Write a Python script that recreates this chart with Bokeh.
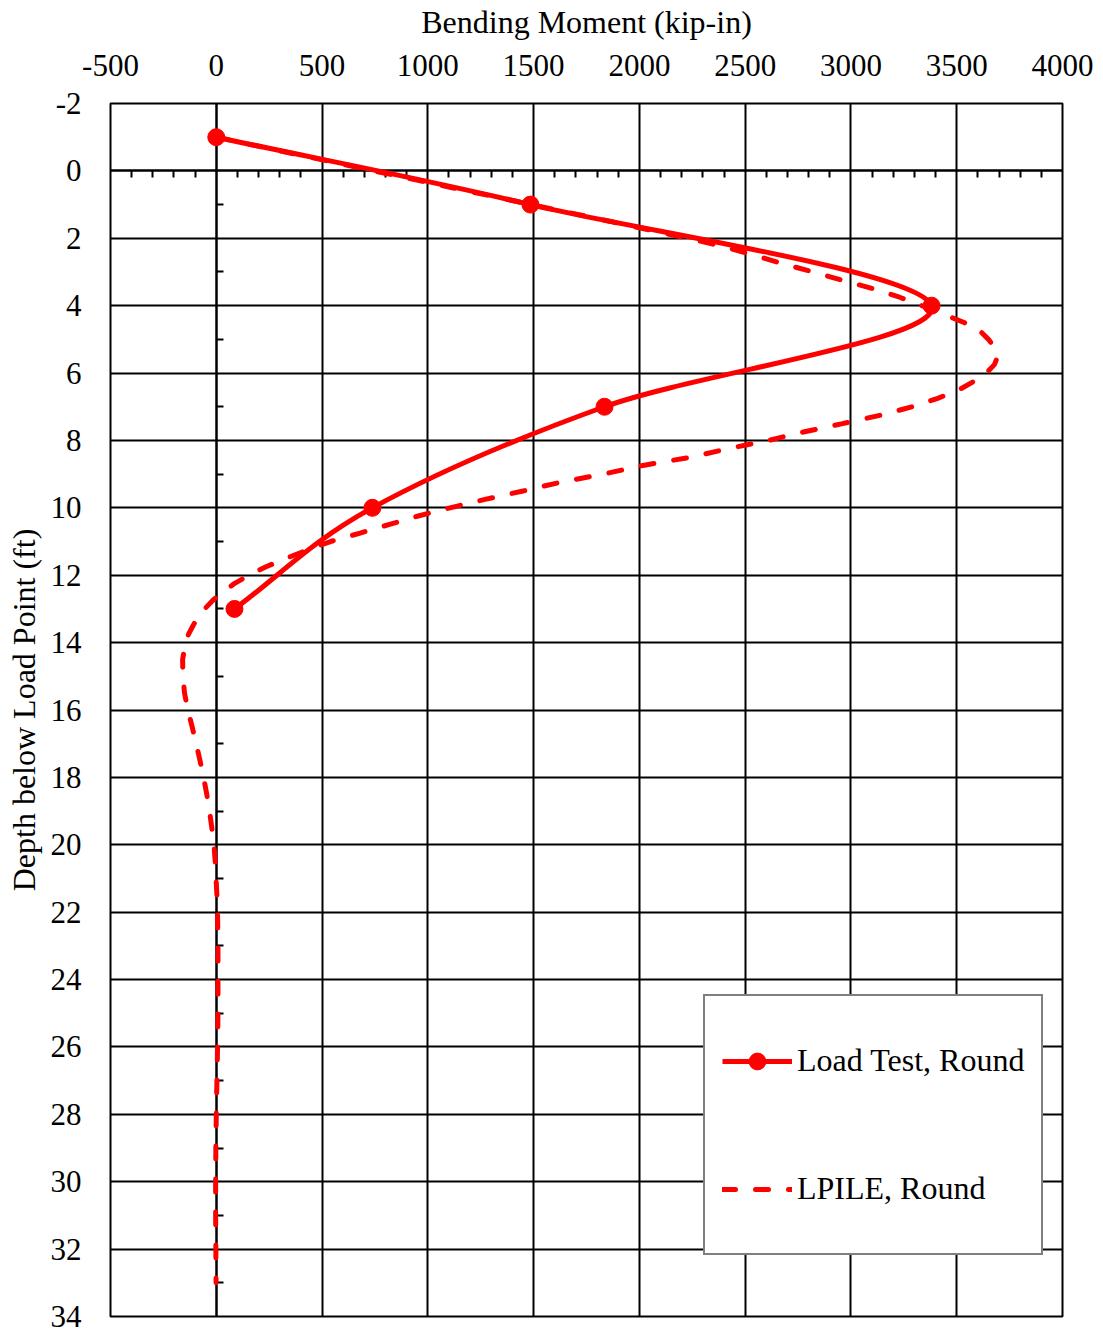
from bokeh.plotting import figure
from bokeh.models import Range1d, FixedTicker, LinearAxis, Legend, LegendItem, ColumnDataSource
from bokeh.embed import file_html
from bokeh.resources import INLINE

# ---- data ----
test_depth = [-1, 1, 4, 7, 10, 13]
test_moment = [0, 1485, 3381, 1835, 738, 86]

lpile_depth = [-1, 0, 0.5, 1.0, 1.5, 2.0, 2.25, 2.5, 2.75, 3.0, 3.25, 3.5, 3.75, 4.0,
               4.25, 4.5, 4.75, 5.0, 5.25, 5.5, 5.75, 6.0, 6.25, 6.5, 6.75, 7.0,
               7.25, 7.5, 7.75, 8.0, 8.25, 8.5, 8.75, 9.0, 9.25, 9.5, 9.75, 10.0,
               10.25, 10.5, 10.75, 11.0, 11.25, 11.5, 11.75, 12.0, 12.25, 12.5,
               12.75, 13.0, 13.25, 13.5, 13.75, 14.0, 14.5, 15.0, 15.5, 16.0, 16.5,
               17.0, 17.5, 18.0, 18.5, 19.0, 19.5, 20.0, 20.5, 21.0, 21.5, 22, 23,
               24, 25, 26, 27, 28, 29, 30, 31, 32, 33]
lpile_moment = [0, 745, 1115, 1490, 1862, 2230, 2400, 2540, 2675, 2822, 2960, 3107,
                3230, 3335, 3435, 3535, 3610, 3650, 3680, 3694, 3678, 3640, 3580,
                3510, 3410, 3290, 3140, 2960, 2775, 2610, 2415, 2240, 2010, 1830,
                1620, 1450, 1270, 1105, 950, 815, 680, 540, 430, 330, 235, 155, 85,
                30, -17, -55, -88, -110, -131, -146, -159, -158, -150, -134, -114,
                -95, -77, -60, -45, -32, -21, -11, -5, -1, 3, 6, 8, 8, 8, 6, 3, 0,
                -2, -3, -3, -2, -1]

x_ticks = [-500, 0, 500, 1000, 1500, 2000, 2500, 3000, 3500, 4000]
y_ticks = [-2, 0, 2, 4, 6, 8, 10, 12, 14, 16, 18, 20, 22, 24, 26, 28, 30, 32, 34]
x_minor = [v for v in range(-500, 4001, 100) if v % 500 != 0]
y_minor = list(range(-1, 34, 2))

FONT = "Liberation Serif"
RED = "#FF0000"

# Smoothed (Excel-like) curve through the load-test points, drawn as cubic Beziers
def bezier_segments(xs, ys):
    n = len(xs)
    out = dict(x0=[], y0=[], x1=[], y1=[], cx0=[], cy0=[], cx1=[], cy1=[])
    for i in range(n - 1):
        if i == 0:
            tx0, ty0 = xs[1] - xs[0], ys[1] - ys[0]
        else:
            tx0, ty0 = (xs[i + 1] - xs[i - 1]) / 2, (ys[i + 1] - ys[i - 1]) / 2
        if i + 1 == n - 1:
            tx1, ty1 = xs[n - 1] - xs[n - 2], ys[n - 1] - ys[n - 2]
        else:
            tx1, ty1 = (xs[i + 2] - xs[i]) / 2, (ys[i + 2] - ys[i]) / 2
        out["x0"].append(xs[i]); out["y0"].append(ys[i])
        out["x1"].append(xs[i + 1]); out["y1"].append(ys[i + 1])
        out["cx0"].append(xs[i] + tx0 / 3); out["cy0"].append(ys[i] + ty0 / 3)
        out["cx1"].append(xs[i + 1] - tx1 / 3); out["cy1"].append(ys[i + 1] - ty1 / 3)
    return out

p = figure(width=1103, height=1334,
           x_range=Range1d(-500, 4000), y_range=Range1d(34, -2),
           x_axis_location="above",
           output_backend="svg", toolbar_location=None,
           min_border_left=110, min_border_right=41,
           min_border_top=102, min_border_bottom=18)

p.outline_line_color = "black"
p.outline_line_width = 2
p.background_fill_color = "white"
p.border_fill_color = "white"

# main axes
p.xaxis.ticker = FixedTicker(ticks=x_ticks)
p.yaxis.ticker = FixedTicker(ticks=y_ticks)
p.xaxis.major_label_overrides = {v: str(v) for v in x_ticks}
p.yaxis.major_label_overrides = {v: str(v) for v in y_ticks}
for ax in (p.xaxis[0], p.yaxis[0]):
    ax.axis_line_color = None
    ax.major_tick_line_color = None
    ax.minor_tick_line_color = None
    ax.major_label_text_font = FONT
    ax.major_label_text_font_size = "31px"
    ax.major_label_text_color = "black"
    ax.axis_label_text_font = FONT
    ax.axis_label_text_font_size = "32px"
    ax.axis_label_text_font_style = "normal"
    ax.axis_label_text_color = "black"
p.xaxis.axis_label = "Bending Moment (kip-in)"
p.yaxis.axis_label = "Depth below Load Point (ft)"
p.xaxis.major_label_standoff = 22
p.xaxis.axis_label_standoff = 12
p.yaxis.major_label_standoff = 23
p.yaxis.axis_label_standoff = 6

p.xgrid.ticker = FixedTicker(ticks=x_ticks)
p.ygrid.ticker = FixedTicker(ticks=y_ticks)
for g in (p.xgrid[0], p.ygrid[0]):
    g.grid_line_color = "black"
    g.grid_line_width = 2
    g.grid_line_alpha = 1.0

# inner axes crossing at (0, 0) with minor ticks
x_inner = LinearAxis(fixed_location=0, ticker=FixedTicker(ticks=[], minor_ticks=x_minor),
                     axis_line_color="black", axis_line_width=2,
                     major_tick_line_color=None,
                     minor_tick_line_color="black", minor_tick_line_width=2,
                     minor_tick_in=0, minor_tick_out=7, level="underlay")
y_inner = LinearAxis(fixed_location=0, ticker=FixedTicker(ticks=[], minor_ticks=y_minor),
                     axis_line_color="black", axis_line_width=2,
                     major_tick_line_color=None,
                     minor_tick_line_color="black", minor_tick_line_width=2,
                     minor_tick_in=7, minor_tick_out=0, level="underlay")
p.add_layout(x_inner, "below")
p.add_layout(y_inner, "left")

# LPILE dashed curve
lp = p.line(lpile_moment, lpile_depth, line_color=RED, line_width=5,
            line_dash="13 20", line_cap="round")

# Load test smoothed curve + markers
bz = p.bezier(source=ColumnDataSource(bezier_segments(test_moment, test_depth)),
              x0="x0", y0="y0", x1="x1", y1="y1",
              cx0="cx0", cy0="cy0", cx1="cx1", cy1="cy1",
              line_color=RED, line_width=5)
sc = p.scatter(test_moment, test_depth, size=17, fill_color=RED, line_color=RED)

legend = Legend(items=[LegendItem(label="Load Test, Round", renderers=[bz, sc]),
                       LegendItem(label="LPILE, Round", renderers=[lp])],
                location=(593, 61), margin=0, padding=17, spacing=33,
                glyph_width=70, glyph_height=42, label_height=95,
                label_standoff=5,
                label_text_font=FONT, label_text_font_size="32px",
                label_text_color="black",
                border_line_color="black", border_line_width=2,
                background_fill_color="white", background_fill_alpha=1.0)
p.add_layout(legend, "center")

open("out.html", "w").write(file_html(p, INLINE))
